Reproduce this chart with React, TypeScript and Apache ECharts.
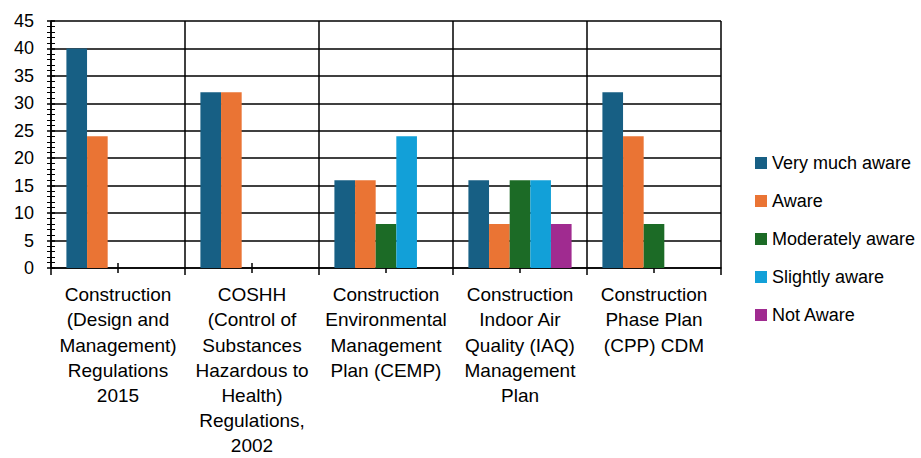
import React, { useEffect, useRef } from "react";
import * as echarts from "echarts";

const categories = [
  "Construction\n(Design and\nManagement)\nRegulations\n2015",
  "COSHH\n(Control of\nSubstances\nHazardous to\nHealth)\nRegulations,\n2002",
  "Construction\nEnvironmental\nManagement\nPlan (CEMP)",
  "Construction\nIndoor Air\nQuality (IAQ)\nManagement\nPlan",
  "Construction\nPhase Plan\n(CPP) CDM",
];

const seriesNames = [
  "Very much aware",
  "Aware",
  "Moderately aware",
  "Slightly aware",
  "Not Aware",
];

const veryMuchAware = [40, 32, 16, 16, 32];
const aware = [24, 32, 16, 8, 24];
const moderatelyAware = [0, 0, 8, 16, 8];
const slightlyAware = [0, 0, 24, 16, 0];
const notAware = [0, 0, 0, 8, 0];

const colors = ["#175f84", "#ea7434", "#1c6b26", "#12a0d8", "#a02b90"];

const FONT = "'Liberation Sans', Arial, sans-serif";

export default function App() {
  const ref = useRef<HTMLDivElement>(null);
  useEffect(() => {
    if (!ref.current) return;
    const chart = echarts.init(ref.current, undefined, { renderer: "svg" });
    const values = [veryMuchAware, aware, moderatelyAware, slightlyAware, notAware];
    const lineStyle = { color: "#000", width: 1.5 };
    chart.setOption({
      animation: false,
      textStyle: { fontFamily: FONT },
      grid: { left: 51, right: 200, top: 21, bottom: 190, outerBoundsMode: "none", containLabel: false },
      legend: {
        orient: "vertical",
        left: 755,
        top: 154,
        padding: 0,
        itemWidth: 12,
        itemHeight: 12,
        itemGap: 20,
        icon: "rect",
        textStyle: { fontSize: 18, color: "#000", fontFamily: FONT },
        data: seriesNames,
      },
      xAxis: [
        {
          type: "category",
          data: categories,
          axisLine: { lineStyle },
          axisTick: { show: true, length: 7, lineStyle },
          splitLine: { show: true, lineStyle },
          axisLabel: {
            interval: 0,
            fontSize: 19,
            lineHeight: 25.2,
            color: "#000",
            margin: 14,
            fontFamily: FONT,
          },
        },
        {
          type: "category",
          data: categories,
          position: "bottom",
          axisLine: { show: false },
          axisTick: { show: true, alignWithLabel: true, length: 5, lineStyle },
          axisLabel: { show: false },
          splitLine: { show: false },
        },
        {
          type: "category",
          data: categories,
          position: "bottom",
          axisLine: { show: false },
          axisTick: { show: true, alignWithLabel: true, inside: true, length: 5, lineStyle },
          axisLabel: { show: false },
          splitLine: { show: false },
        },
      ],
      yAxis: [
        {
          type: "value",
          min: 0,
          max: 45,
          interval: 5,
          axisLine: { show: true, lineStyle },
          axisTick: { show: true, length: 4, lineStyle },
          minorTick: { show: true, splitNumber: 5, length: 4, lineStyle: { color: "#000", width: 1 } },
          splitLine: { show: true, lineStyle },
          axisLabel: { fontSize: 18, color: "#000", margin: 17, fontFamily: FONT },
        },
        {
          type: "value",
          min: 0,
          max: 45,
          interval: 5,
          position: "left",
          axisLine: { show: false },
          axisTick: { show: true, inside: true, length: 4, lineStyle },
          minorTick: { show: true, splitNumber: 5, length: 4, lineStyle: { color: "#000", width: 1 } },
          splitLine: { show: false },
          axisLabel: { show: false },
        },
      ],
      series: seriesNames.map((name, i) => ({
        name,
        type: "bar",
        xAxisIndex: 0,
        yAxisIndex: 0,
        data: values[i],
        barGap: "0%",
        barCategoryGap: "23%",
        itemStyle: { color: colors[i] },
      })),
    });
    return () => chart.dispose();
  }, []);
  return (
    <div
      ref={ref}
      style={{ position: "absolute", left: 0, top: 0, width: 921, height: 458 }}
    />
  );
}
